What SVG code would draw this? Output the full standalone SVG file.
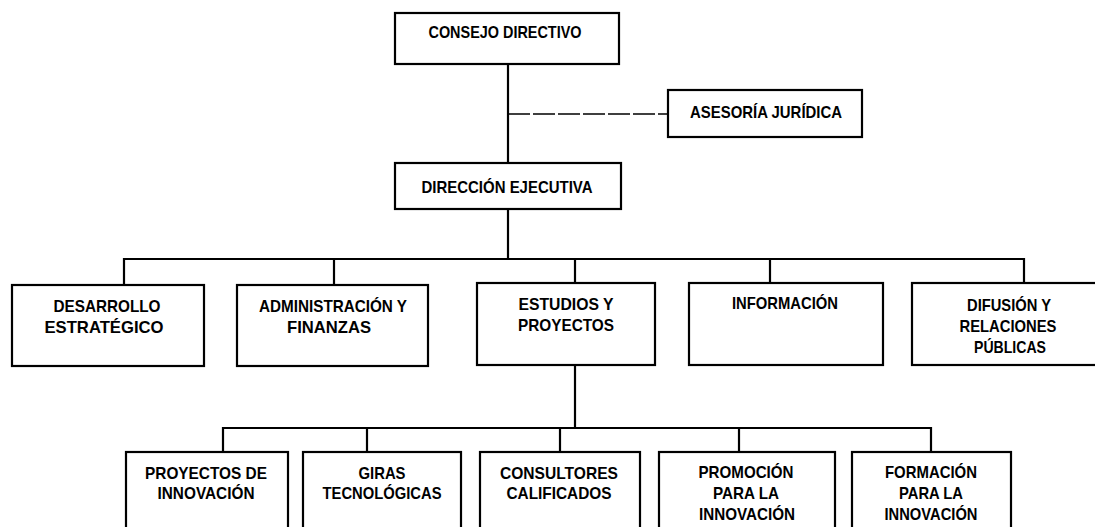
<svg xmlns="http://www.w3.org/2000/svg" width="1095" height="527" viewBox="0 0 1095 527">
<style>
.box{fill:#fff;stroke:#000;stroke-width:2.2}
.t{font-family:"Liberation Sans",Arial,sans-serif;font-weight:bold;font-size:17px;fill:#000;text-anchor:middle}
.ln{fill:none;stroke:#000;stroke-width:2.2}
.dash{fill:none;stroke:#000;stroke-width:1.6;stroke-dasharray:22 3}
</style>
<rect width="1095" height="527" fill="#fff"/>
<g id="connectors">
<line class="ln" x1="508" y1="64" x2="508" y2="163"/>
<line class="dash" x1="508" y1="114" x2="668" y2="114"/>
<line class="ln" x1="508" y1="209" x2="508" y2="259"/>
<polyline class="ln" points="124,285 124,259 1024,259 1024,283"/>
<line class="ln" x1="334" y1="259" x2="334" y2="285"/>
<line class="ln" x1="575" y1="259" x2="575" y2="283"/>
<line class="ln" x1="770" y1="259" x2="770" y2="283"/>
<line class="ln" x1="575" y1="365" x2="575" y2="428"/>
<polyline class="ln" points="223,452 223,428 931,428 931,452"/>
<line class="ln" x1="367" y1="428" x2="367" y2="452"/>
<line class="ln" x1="560" y1="428" x2="560" y2="452"/>
<line class="ln" x1="739" y1="428" x2="739" y2="452"/>
</g>
<g id="consejo"><rect class="box" x="395" y="13" width="224" height="51"/><text class="t" x="505" y="38" textLength="153" lengthAdjust="spacingAndGlyphs">CONSEJO DIRECTIVO</text></g>
<g id="asesoria"><rect class="box" x="668" y="90" width="194" height="47"/><text class="t" x="766" y="118" textLength="152" lengthAdjust="spacingAndGlyphs">ASESORÍA JURÍDICA</text></g>
<g id="direccion"><rect class="box" x="395" y="163" width="226" height="46"/><text class="t" x="507" y="193" textLength="171" lengthAdjust="spacingAndGlyphs">DIRECCIÓN EJECUTIVA</text></g>
<g id="desarrollo"><rect class="box" x="12" y="285" width="192" height="81"/><text class="t" x="107" y="312" textLength="107" lengthAdjust="spacingAndGlyphs">DESARROLLO</text><text class="t" x="104" y="333" textLength="119" lengthAdjust="spacingAndGlyphs">ESTRATÉGICO</text></g>
<g id="administracion"><rect class="box" x="237" y="285" width="191" height="81"/><text class="t" x="333" y="312" textLength="148" lengthAdjust="spacingAndGlyphs">ADMINISTRACIÓN Y</text><text class="t" x="329" y="333" textLength="84" lengthAdjust="spacingAndGlyphs">FINANZAS</text></g>
<g id="estudios"><rect class="box" x="477" y="283" width="178" height="82"/><text class="t" x="566" y="310" textLength="95" lengthAdjust="spacingAndGlyphs">ESTUDIOS Y</text><text class="t" x="566" y="331" textLength="96" lengthAdjust="spacingAndGlyphs">PROYECTOS</text></g>
<g id="informacion"><rect class="box" x="689" y="283" width="194" height="82"/><text class="t" x="785" y="309" textLength="106" lengthAdjust="spacingAndGlyphs">INFORMACIÓN</text></g>
<g id="difusion"><rect class="box" x="912" y="283" width="200" height="82"/><text class="t" x="1009" y="311" textLength="84" lengthAdjust="spacingAndGlyphs">DIFUSIÓN Y</text><text class="t" x="1008" y="332" textLength="97" lengthAdjust="spacingAndGlyphs">RELACIONES</text><text class="t" x="1010" y="353" textLength="72" lengthAdjust="spacingAndGlyphs">PÚBLICAS</text></g>
<g id="proyectos"><rect class="box" x="126" y="452" width="162" height="85"/><text class="t" x="206" y="479" textLength="122" lengthAdjust="spacingAndGlyphs">PROYECTOS DE</text><text class="t" x="206" y="499" textLength="97" lengthAdjust="spacingAndGlyphs">INNOVACIÓN</text></g>
<g id="giras"><rect class="box" x="303" y="452" width="158" height="85"/><text class="t" x="382" y="479" textLength="47" lengthAdjust="spacingAndGlyphs">GIRAS</text><text class="t" x="382" y="499" textLength="119" lengthAdjust="spacingAndGlyphs">TECNOLÓGICAS</text></g>
<g id="consultores"><rect class="box" x="480" y="452" width="160" height="85"/><text class="t" x="559" y="479" textLength="118" lengthAdjust="spacingAndGlyphs">CONSULTORES</text><text class="t" x="559" y="499" textLength="105" lengthAdjust="spacingAndGlyphs">CALIFICADOS</text></g>
<g id="promocion"><rect class="box" x="659" y="452" width="176" height="85"/><text class="t" x="746" y="478" textLength="95" lengthAdjust="spacingAndGlyphs">PROMOCIÓN</text><text class="t" x="746" y="499" textLength="66" lengthAdjust="spacingAndGlyphs">PARA LA</text><text class="t" x="747" y="520" textLength="96" lengthAdjust="spacingAndGlyphs">INNOVACIÓN</text></g>
<g id="formacion"><rect class="box" x="852" y="452" width="159" height="85"/><text class="t" x="931" y="478" textLength="92" lengthAdjust="spacingAndGlyphs">FORMACIÓN</text><text class="t" x="931" y="499" textLength="64" lengthAdjust="spacingAndGlyphs">PARA LA</text><text class="t" x="931" y="520" textLength="93" lengthAdjust="spacingAndGlyphs">INNOVACIÓN</text></g>
</svg>
